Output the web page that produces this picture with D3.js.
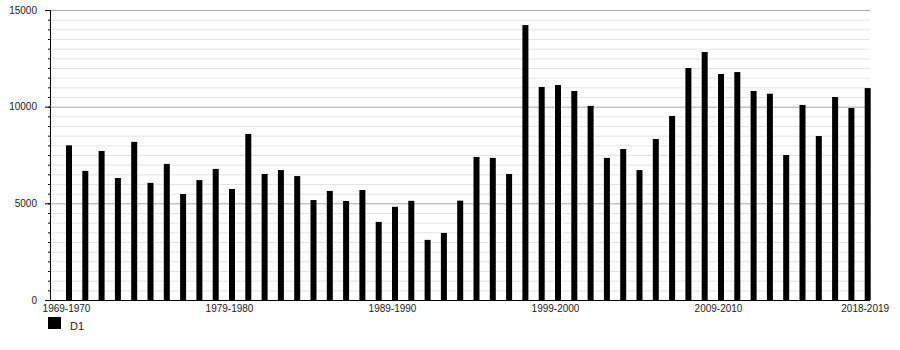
<!DOCTYPE html>
<html>
<head>
<meta charset="utf-8">
<script src="https://cdn.jsdelivr.net/npm/d3@7"></script>
<style>
    body { margin: 0; background: #fff; }
    svg { font-family: 'Liberation Sans', Arial, sans-serif; }
    .grid.minor line { stroke: #e4e4e4; }
    .grid.major line { stroke: #a8a8a8; }
    .grid path { display: none; }
    .axis text { fill: #222; font-size: 10px; }
</style>
</head>
<body>
<svg id="chart" width="900" height="350"></svg>
<script>
const categories = [
    '1969-1970', '1970-1971', '1971-1972', '1972-1973', '1973-1974',
    '1974-1975', '1975-1976', '1976-1977', '1977-1978', '1978-1979',
    '1979-1980', '1980-1981', '1981-1982', '1982-1983', '1983-1984',
    '1984-1985', '1985-1986', '1986-1987', '1987-1988', '1988-1989',
    '1989-1990', '1990-1991', '1991-1992', '1992-1993', '1993-1994',
    '1994-1995', '1995-1996', '1996-1997', '1997-1998', '1998-1999',
    '1999-2000', '2000-2001', '2001-2002', '2002-2003', '2003-2004',
    '2004-2005', '2005-2006', '2006-2007', '2007-2008', '2008-2009',
    '2009-2010', '2010-2011', '2011-2012', '2012-2013', '2013-2014',
    '2014-2015', '2015-2016', '2016-2017', '2017-2018', '2018-2019'
];
const d1Values = [
    8000, 6680, 7710, 6310, 8180, 6060, 7040, 5480, 6200, 6780,
    5740, 8590, 6520, 6720, 6410, 5170, 5640, 5120, 5690, 4040,
    4820, 5130, 3110, 3470, 5140, 7400, 7350, 6520, 14220, 11020,
    11120, 10810, 10040, 7350, 7810, 6720, 8330, 9520, 12000, 12830,
    11690, 11790, 10810, 10670, 7500, 10090, 8480, 10500, 9930, 10960
];
const xTickLabels = ['1969-1970', '1979-1980', '1989-1990', '1999-2000', '2009-2010', '2018-2019'];
const yMajorTicks = [0, 5000, 10000, 15000];
const yMinorTicks = d3.range(0, 15001, 500);
const seriesName = 'D1';

const chart = { left: 50, right: 870, top: 10, bottom: 300 };

const svg = d3.select('#chart');

const xScale = d3.scalePoint().domain(categories).range([66, 864.7]);
const yScale = d3.scaleLinear().domain([0, 15000]).range([chart.bottom, chart.top]);
const barWidth = 6;

// grid lines
svg.append('g').attr('class', 'grid minor')
    .attr('transform', `translate(${chart.left} 0)`)
    .call(d3.axisRight(yScale).tickValues(yMinorTicks.filter(v => v % 5000 !== 0))
        .tickSizeInner(chart.right - chart.left).tickSizeOuter(0).tickFormat(''));
svg.append('g').attr('class', 'grid major')
    .attr('transform', `translate(${chart.left} 0)`)
    .call(d3.axisRight(yScale).tickValues(yMajorTicks)
        .tickSizeInner(chart.right - chart.left).tickSizeOuter(0).tickFormat(''));

// bars
svg.append('g').selectAll('rect').data(categories).enter().append('rect')
    .attr('x', d => xScale(d))
    .attr('y', (d, i) => yScale(d1Values[i]))
    .attr('width', barWidth)
    .attr('height', (d, i) => yScale(0) - yScale(d1Values[i]))
    .attr('fill', '#000');

// y axis
const yMinor = svg.append('g').attr('class', 'axis')
    .attr('transform', `translate(${chart.left} 0)`)
    .call(d3.axisLeft(yScale).tickValues(yMinorTicks).tickSize(2).tickFormat(''));
yMinor.select('.domain').remove();
yMinor.selectAll('line').attr('stroke', '#000');

const yMajor = svg.append('g').attr('class', 'axis')
    .attr('transform', `translate(${chart.left} 0)`)
    .call(d3.axisLeft(yScale).tickValues(yMajorTicks).tickSize(5).tickPadding(8).tickFormat(d3.format('d')));
yMajor.select('.domain').remove();
yMajor.selectAll('line').attr('stroke', '#000');

svg.append('line')
    .attr('x1', chart.left + 0.5).attr('x2', chart.left + 0.5)
    .attr('y1', chart.top).attr('y2', chart.bottom)
    .attr('stroke', '#000');

// x axis
const xAxis = svg.append('g').attr('class', 'axis')
    .attr('transform', `translate(0 ${chart.bottom})`)
    .call(d3.axisBottom(xScale).tickValues(xTickLabels).tickSize(0).tickPadding(5));
xAxis.select('.domain').remove();

svg.append('line')
    .attr('x1', chart.left).attr('x2', chart.right)
    .attr('y1', chart.bottom + 0.5).attr('y2', chart.bottom + 0.5)
    .attr('stroke', '#000');

// legend
const legend = svg.append('g').attr('transform', 'translate(48 317)');
legend.append('rect').attr('width', 13).attr('height', 12).attr('fill', '#000');
legend.append('text').text(seriesName)
    .attr('x', 22).attr('y', 13)
    .style('font-size', '11px')
    .attr('fill', '#222');
</script>
</body>
</html>
